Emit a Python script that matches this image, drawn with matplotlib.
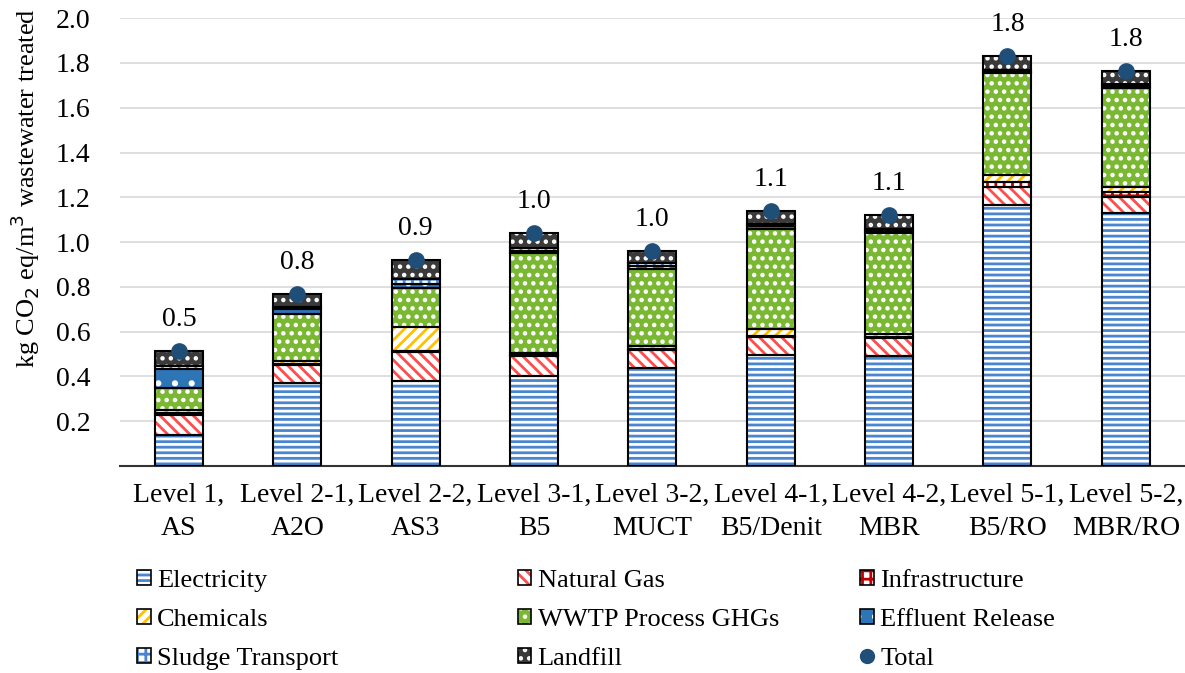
import matplotlib
matplotlib.use('Agg')
import numpy as np
import matplotlib.pyplot as plt
import matplotlib.patches as mpatches
from matplotlib.lines import Line2D

plt.rcParams['font.family'] = ['Liberation Serif', 'DejaVu Serif']
plt.rcParams['hatch.linewidth'] = 2.0

categories = ['Level 1,\nAS', 'Level 2-1,\nA2O', 'Level 2-2,\nAS3', 'Level 3-1,\nB5',
              'Level 3-2,\nMUCT', 'Level 4-1,\nB5/Denit', 'Level 4-2,\nMBR',
              'Level 5-1,\nB5/RO', 'Level 5-2,\nMBR/RO']

electricity = [0.14, 0.37, 0.38, 0.40, 0.437, 0.495, 0.49, 1.165, 1.13]
natural_gas = [0.09, 0.08, 0.13, 0.09, 0.08, 0.08, 0.08, 0.08, 0.07]
infrastructure = [0.005, 0.005, 0.005, 0.005, 0.005, 0.005, 0.005, 0.025, 0.025]
chemicals = [0.015, 0.015, 0.105, 0.01, 0.015, 0.03, 0.015, 0.03, 0.02]
wwtp_ghg = [0.10, 0.21, 0.175, 0.445, 0.345, 0.45, 0.45, 0.455, 0.445]
effluent = [0.085, 0.02, 0.02, 0.01, 0.01, 0.01, 0.01, 0.005, 0.005]
sludge = [0.01, 0.01, 0.02, 0.015, 0.015, 0.01, 0.01, 0.01, 0.01]
landfill = [0.07, 0.06, 0.085, 0.065, 0.055, 0.06, 0.06, 0.06, 0.06]

series = [
    ('Electricity', electricity, 'white', '#4a86d0', '---'),
    ('Natural Gas', natural_gas, 'white', '#ff4d4d', '\\\\\\'),
    ('Infrastructure', infrastructure, 'white', '#c00000', '++'),
    ('Chemicals', chemicals, 'white', '#ffc000', '///'),
    ('WWTP Process GHGs', wwtp_ghg, '#7ab833', 'white', '..'),
    ('Effluent Release', effluent, '#2e75b6', 'white', '.'),
    ('Sludge Transport', sludge, 'white', '#4a86d0', '++'),
    ('Landfill', landfill, '#3a3a3a', 'white', '..'),
]

totals = np.sum([s[1] for s in series], axis=0)

fig = plt.figure(figsize=(11.85, 6.73), dpi=100)
ax = fig.add_axes([0.101, 0.3075, 0.899, 0.6655])

x = np.arange(len(categories))
width = 0.405
bottom = np.zeros(len(categories))
handles = {}
for name, vals, fc, hc, hatch in series:
    vals = np.array(vals)
    ax.bar(x, vals, width, bottom=bottom, color=fc, edgecolor=hc, hatch=hatch,
           linewidth=0, zorder=2)
    ax.bar(x, vals, width, bottom=bottom, fill=False, edgecolor='black',
           linewidth=1.5, zorder=3)
    bottom += vals
    handles[name] = (mpatches.Patch(facecolor=fc, edgecolor=hc, hatch=hatch, linewidth=0),
                     mpatches.Patch(fill=False, edgecolor='black', linewidth=1.2))

ax.plot(x, totals, 'o', color='#1f4e79', markersize=11, linestyle='none', zorder=4)
handles['Total'] = Line2D([], [], marker='o', color='#1f4e79', linestyle='none', markersize=10)

for xi, t in zip(x, totals):
    ax.text(xi, t + 0.085, '%.1f' % t, ha='center', va='bottom', fontsize=20)

ax.set_ylim(0, 2.0)
ax.set_xlim(-0.5, len(categories) - 0.5)
ax.set_yticks(np.arange(0.2, 2.01, 0.2))
ax.set_yticklabels(['%.1f' % v for v in np.arange(0.2, 2.01, 0.2)], fontsize=20)
ax.set_xticks(x)
ax.set_xticklabels(categories, fontsize=20, linespacing=1.45)
ax.tick_params(axis='y', length=0, pad=21)
ax.tick_params(axis='x', length=0, pad=12)
ax.yaxis.grid(True, color='#d9d9d9', linewidth=1.2, zorder=0)
ax.set_axisbelow(True)
for side in ['left', 'right', 'top']:
    ax.spines[side].set_visible(False)
ax.spines['bottom'].set_color('#333333')
ax.spines['bottom'].set_linewidth(1.5)
ax.set_ylabel('kg CO$_2$ eq/m$^3$ wastewater treated', fontsize=19)
ax.yaxis.set_label_coords(-0.073, 0.62)

columns = [['Electricity', 'Chemicals', 'Sludge Transport'],
           ['Natural Gas', 'WWTP Process GHGs', 'Landfill'],
           ['Infrastructure', 'Effluent Release', 'Total']]
col_x = [0.116, 0.437, 0.726]
for cx, names in zip(col_x, columns):
    fig.legend([handles[k] for k in names], names, loc='upper left',
               bbox_to_anchor=(cx, 0.153), frameon=False, borderpad=0, borderaxespad=0,
               fontsize=19, handlelength=0.5, handleheight=0.5, handletextpad=0.25,
               labelspacing=0.64)

fig.savefig('out.png', dpi=100)
